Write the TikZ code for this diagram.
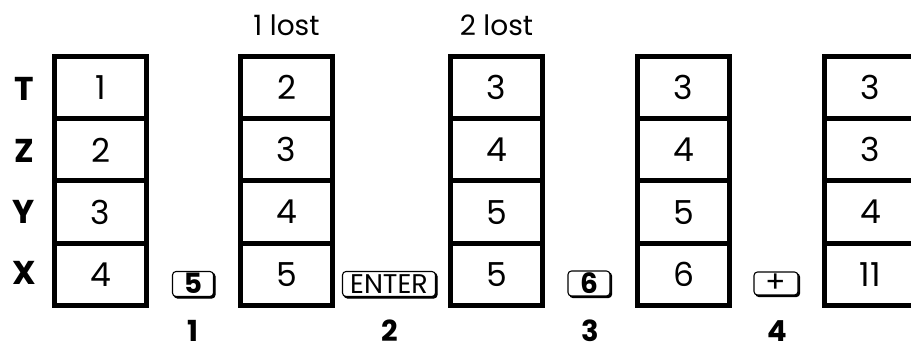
\documentclass[tikz,border=0pt]{standalone}
\usepackage{fontspec}
\setmainfont{Poppins}
\usetikzlibrary{shadows}
\begin{document}
\begin{tikzpicture}[x=1pt,y=1pt,
  cell/.style={draw,line width=5pt,minimum width=92pt,minimum height=62.25pt,inner sep=0pt,font=\fontsize{33}{36}\selectfont},
  reglabel/.style={inner sep=0pt,text height=23pt,text depth=0pt,font=\bfseries\fontsize{33}{34}\selectfont},
  steplabel/.style={inner sep=0pt,text height=21pt,text depth=0pt,font=\bfseries\fontsize{29}{30}\selectfont},
  lostlabel/.style={inner sep=0pt,font=\fontsize{28}{30}\selectfont},
  keycap/.style={draw,fill=white,line width=1.1pt,rounded corners=3.5pt,inner xsep=0pt,inner ysep=2.5pt,
    text height=20pt,text depth=0pt,
    copy shadow={shadow xshift=1.6pt,shadow yshift=-1.6pt,fill=black,draw=black,line width=1.1pt}}]
\clip (0,0) rectangle (911,-347);
\fill[white] (0,0) rectangle (911,-347);
% columns
\foreach \c/\x/\a/\b/\cc/\d in {1/100.5/1/2/3/4, 2/286.5/2/3/4/5, 3/496.5/3/4/5/5, 4/683.5/3/4/5/6, 5/870.5/3/3/4/11}{
  \node[cell] (c\c t) at (\x,-87.625) {\a};
  \node[cell] (c\c z) at (\x,-149.875) {\b};
  \node[cell] (c\c y) at (\x,-212.125) {\cc};
  \node[cell] (c\c x) at (\x,-274.375) {\d};
}
% register labels
\node[reglabel] (lt) at (24,-89) {T};
\node[reglabel] (lz) at (24,-151) {Z};
\node[reglabel] (ly) at (24,-212) {Y};
\node[reglabel] (lx) at (24,-273) {X};
% lost labels
\node[lostlabel] (lost1) at (286.5,-25) {1 lost};
\node[lostlabel] (lost2) at (496.5,-25) {2 lost};
% keys
\node[keycap,minimum width=41pt,font=\bfseries\fontsize{28}{30}\selectfont] (k1) at (193,-284) {5};
\node[keycap,minimum width=93pt,font=\fontsize{27}{30}\selectfont] (k2) at (389,-284) {ENTER};
\node[keycap,minimum width=42pt,font=\bfseries\fontsize{28}{30}\selectfont] (k3) at (589,-283.5) {6};
\node[keycap,minimum width=44pt,text height=18pt,font=\fontsize{30}{32}\selectfont] (k4) at (776,-283.5) {+};
% step numbers
\node[steplabel] (s1) at (193,-331) {1};
\node[steplabel] (s2) at (390,-331) {2};
\node[steplabel] (s3) at (590,-331) {3};
\node[steplabel] (s4) at (777,-331) {4};
\end{tikzpicture}
\end{document}
